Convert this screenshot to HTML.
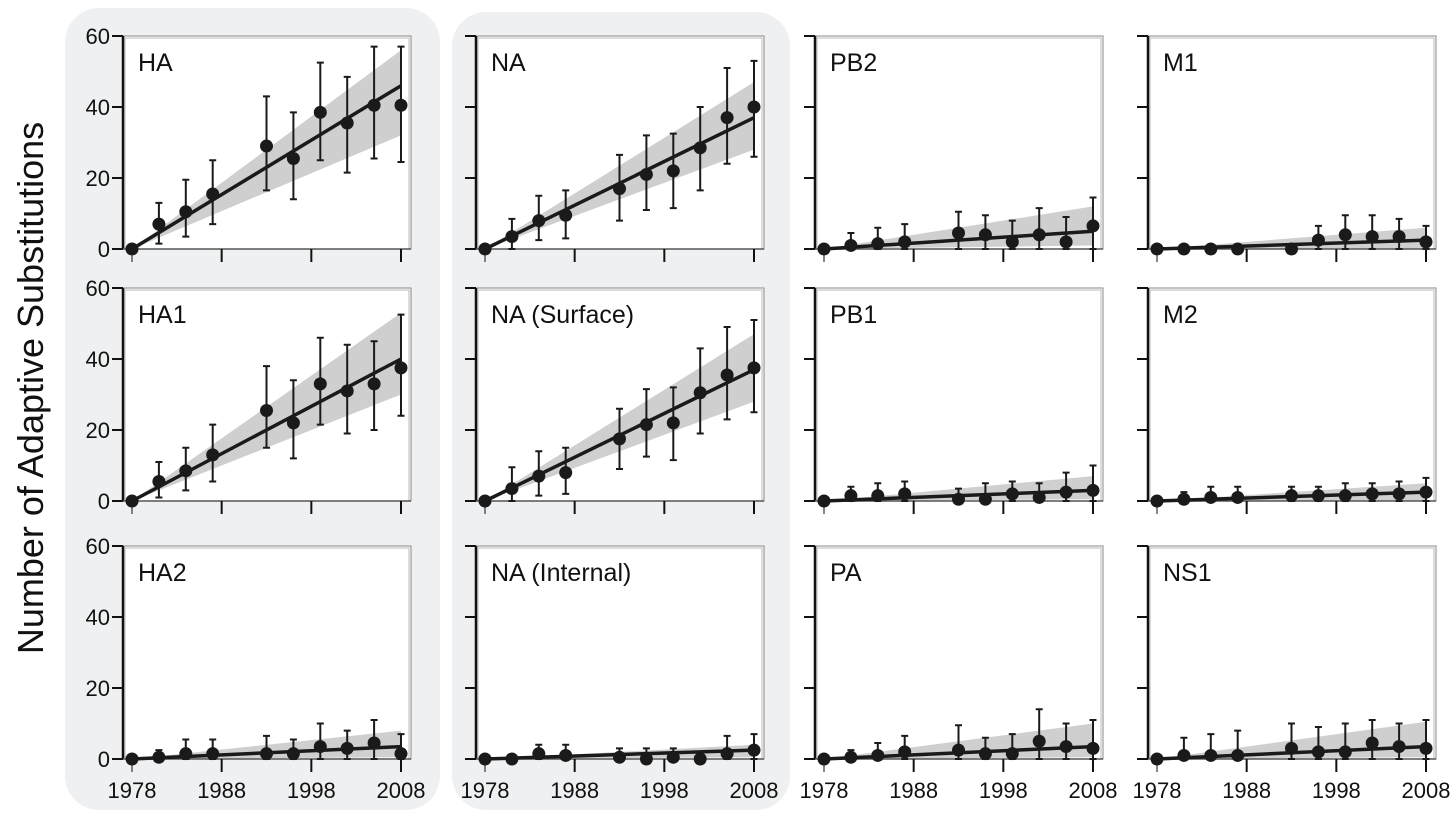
<!DOCTYPE html>
<html><head><meta charset="utf-8"><style>
html,body{margin:0;padding:0;background:#fff;}
svg{display:block;font-family:"Liberation Sans",Arial,sans-serif;}
</style></head><body>
<svg id="chart" width="1454" height="824" viewBox="0 0 1454 824" xmlns="http://www.w3.org/2000/svg">
<rect x="65" y="8" width="375" height="802" rx="34" fill="#eff0f1"/>
<rect x="452" y="12" width="338" height="798" rx="34" fill="#eff0f1"/>
<text transform="translate(43,388) rotate(-90)" text-anchor="middle" font-size="36" fill="#111">Number of Adaptive Substitutions</text>
<g id="panels"></g>
</svg>
<script>
const years = [1978,1981,1984,1987,1993,1996,1999,2002,2005,2008];
const panelNames = ["HA","NA","PB2","M1","HA1","NA (Surface)","PB1","M2","HA2","NA (Internal)","PA","NS1"];
const meanHA = [0,7,10.5,15.5,29,25.5,38.5,35.5,40.5,40.5];
const lowHA = [0,1.5,3.5,7,16.5,14,25,21.5,25.5,24.5];
const highHA = [0,13,19.5,25,43,38.5,52.5,48.5,57,57];
const meanNA = [0,3.5,8,9.5,17,21,22,28.5,37,40];
const lowNA = [0,0,2.5,3,8,11,11.5,16.5,24,26];
const highNA = [0,8.5,15,16.5,26.5,32,32.5,40,51,53];
const meanPB2 = [0,1,1.5,2,4.5,4,2,4,2,6.5];
const lowPB2 = [0,0,0,0,0,0,0,0,0,0];
const highPB2 = [0,4.5,6,7,10.5,9.5,8,11.5,9,14.5];
const meanM1 = [0,0,0,0,0,2.5,4,3.5,3.5,2];
const lowM1 = [0,0,0,0,0,0,0,0,0,0];
const highM1 = [0,0.5,1,1,1,6.5,9.5,9.5,8.5,6.5];
const meanHA1 = [0,5.5,8.5,13,25.5,22,33,31,33,37.5];
const lowHA1 = [0,1,3,5.5,15,12,21.5,19,20,24];
const highHA1 = [0,11,15,21.5,38,34,46,44,45,52.5];
const meanNAS = [0,3.5,7,8,17.5,21.5,22,30.5,35.5,37.5];
const lowNAS = [0,0,1.5,2,9,12.5,11.5,19,23,25];
const highNAS = [0,9.5,14,15,26,31.5,32,43,49,51];
const meanPB1 = [0,1.5,1.5,2,0.5,0.5,2,1,2.5,3];
const lowPB1 = [0,0,0,0,0,0,0,0,0,0];
const highPB1 = [0,4,5,5.5,3.5,5,5.5,5,8,10];
const meanM2 = [0,0.5,1,1,1.5,1.5,1.5,2,2,2.5];
const lowM2 = [0,0,0,0,0,0,0,0,0,0];
const highM2 = [0,2.5,4,4,4,4,5,5,5.5,6.5];
const meanHA2 = [0,0.5,1.5,1.5,1.5,1.5,3.5,3,4.5,1.5];
const lowHA2 = [0,0,0,0,0,0,0,0,0,0];
const highHA2 = [0,2.5,5.5,5.5,6.5,5.5,10,8,11,7];
const meanNAI = [0,0,1.5,1,0.5,0,0.5,0,1.5,2.5];
const lowNAI = [0,0,0,0,0,0,0,0,0,0];
const highNAI = [0,0.5,4,4,3,3,3,2,6.5,7];
const meanPA = [0,0.5,1,2,2.5,1.5,1.5,5,3.5,3];
const lowPA = [0,0,0,0,0,0,0,0,0,0];
const highPA = [0,2.5,4.5,6.5,9.5,6,7,14,10,11];
const meanNS1 = [0,1,1,1,3,2,2,4.5,3.5,3];
const lowNS1 = [0,0,0,0,0,0,0,0,0,0];
const highNS1 = [0,6,7,8,10,9,10,11,10,11];
const fitEnd = [46,37,5,2.5,40,37,3,2.5,3.5,2.5,3.5,3.5];
const bandHigh = [56,47,12,6,53,47,7,5,8,4,10,10.5];
const bandLow = [32,28,1,0,30,28,0.5,0,0.5,0.5,0.5,0.5];
const yTicks = [0,20,40,60];
const xTicks = [1978,1988,1998,2008];

const means=[meanHA,meanNA,meanPB2,meanM1,meanHA1,meanNAS,meanPB1,meanM2,meanHA2,meanNAI,meanPA,meanNS1];
const lows=[lowHA,lowNA,lowPB2,lowM1,lowHA1,lowNAS,lowPB1,lowM2,lowHA2,lowNAI,lowPA,lowNS1];
const highs=[highHA,highNA,highPB2,highM1,highHA1,highNAS,highPB1,highM2,highHA2,highNAI,highPA,highNS1];

const NS="http://www.w3.org/2000/svg";
const root=document.getElementById('panels');
const colX0=[132,485,824,1157];
const rowY0=[249,501,759];
function mk(tag,attrs,parent){const e=document.createElementNS(NS,tag);for(const k in attrs)e.setAttribute(k,attrs[k]);parent.appendChild(e);return e;}

for(let p=0;p<12;p++){
  const c=p%4,r=Math.floor(p/4);
  const x0=colX0[c],y0=rowY0[r];
  const xs=v=>x0+(v-1978)*269/30;
  const ys=v=>y0-v*213/60;
  const slug=panelNames[p].toLowerCase().replace(/[^a-z0-9]+/g,'-').replace(/-$/,'');
  const g=mk('g',{},root);
  
  
  const L=x0-9,R=x0+279,T=ys(60);
  const frame=mk('rect',{x:L,y:T,width:R-L,height:y0-T,fill:'#fff',stroke:'#888','stroke-width':1},g);
  
  
  mk('rect',{x:L+2,y:T+2,width:R-L-4,height:y0-T-2,fill:'none',stroke:'#bbb','stroke-width':1},g);
  const band=mk('polygon',{points:`${xs(1978)},${ys(0)} ${xs(2008)},${ys(bandHigh[p])} ${xs(2008)},${ys(bandLow[p])}`,fill:'#cfcfcf'},g);
  
  
  mk('line',{x1:L,y1:T,x2:L,y2:y0,stroke:'#111','stroke-width':2.5},g);
  mk('line',{x1:L,y1:y0,x2:R,y2:y0,stroke:'#555','stroke-width':1.5},g);
  yTicks.forEach(t=>{
    mk('line',{x1:L-11,y1:ys(t),x2:L,y2:ys(t),stroke:'#111','stroke-width':2},g);
    if(c===0){const tx=mk('text',{x:L-13,y:ys(t)+8,'text-anchor':'end','font-size':22,fill:'#111'},g);tx.textContent=t;
      }
  });
  xTicks.forEach(t=>{
    mk('line',{x1:xs(t),y1:y0,x2:xs(t),y2:y0+13,stroke:'#111','stroke-width':(t===1978?1:2)},g);
    if(r===2){const tx=mk('text',{x:xs(t),y:y0+39,'text-anchor':'middle','font-size':22,fill:'#111'},g);tx.textContent=t;
      }
  });
  const fit=mk('line',{x1:xs(1978),y1:ys(0),x2:xs(2008),y2:ys(fitEnd[p]),stroke:'#1a1a1a','stroke-width':3.5},g);
  
  
  years.forEach((yr,i)=>{
    const x=xs(yr);
    if(highs[p][i]>lows[p][i]){
      const eb=mk('path',{d:`M${x},${ys(lows[p][i])}V${ys(highs[p][i])}M${x-3.5},${ys(highs[p][i])}H${x+3.5}M${x-3.5},${ys(lows[p][i])}H${x+3.5}`,stroke:'#1a1a1a','stroke-width':2,fill:'none'},g);
      
      
    }
    const pt=mk('circle',{cx:x,cy:ys(means[p][i]),r:6.5,fill:'#1a1a1a'},g);
    
    
  });
  const lbl=mk('text',{x:L+15,y:T+35,'font-size':25,fill:'#111'},g);
  lbl.textContent=panelNames[p];
  
  
}
</script>
</body></html>
